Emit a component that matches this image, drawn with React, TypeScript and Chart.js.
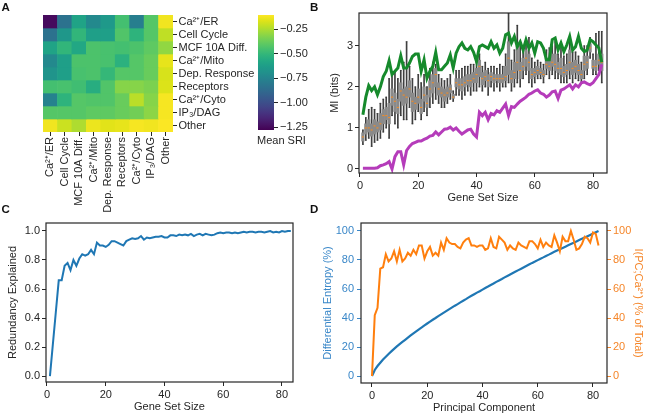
import React, { useEffect, useRef } from 'react';
import { Chart, registerables } from 'chart.js';

Chart.register(...registerables);

// ------------------------- DATA -------------------------
const heatLabels = ['Ca²⁺/ER', 'Cell Cycle', 'MCF 10A Diff.', 'Ca²⁺/Mito', 'Dep. Response', 'Receptors', 'Ca²⁺/Cyto', 'IP₃/DAG', 'Other'];
const heatRows = [
  [-1.25, -0.84, -0.60, -0.73, -0.65, -0.46, -0.78, -0.42, -0.13],
  [-0.84, -0.66, -0.51, -0.62, -0.62, -0.43, -0.52, -0.42, -0.22],
  [-0.60, -0.51, -0.58, -0.44, -0.45, -0.46, -0.44, -0.40, -0.30],
  [-0.73, -0.62, -0.44, -0.44, -0.45, -0.53, -0.42, -0.38, -0.15],
  [-0.68, -0.62, -0.45, -0.44, -0.50, -0.42, -0.42, -0.38, -0.18],
  [-0.46, -0.45, -0.47, -0.55, -0.43, -0.32, -0.32, -0.34, -0.17],
  [-0.76, -0.52, -0.42, -0.43, -0.43, -0.38, -0.23, -0.32, -0.12],
  [-0.42, -0.42, -0.42, -0.40, -0.40, -0.38, -0.36, -0.31, -0.12],
  [-0.13, -0.20, -0.25, -0.14, -0.16, -0.15, -0.12, -0.13, -0.11],
];
const heatMin = -1.28;
const heatMax = -0.107;
const colorbarTicks = [-1.25, -1.0, -0.75, -0.5, -0.25];

const geneSetSizes = Array.from({ length: 83 }, (_, i) => i + 1);
const miUpper = [
  1.32, 1.75, 2.03, 1.91, 2.0, 1.81, 2.0, 2.25, 2.38, 2.64,
  2.30, 2.38, 2.46, 2.76, 2.46, 2.46, 2.58, 2.74, 2.80, 2.80,
  2.38, 2.66, 2.21, 2.38, 2.50, 2.84, 2.42, 2.42, 2.50, 2.58,
  2.78, 2.46, 2.82, 2.98, 3.07, 2.94, 2.90, 2.98, 2.84, 2.62,
  2.98, 3.02, 2.98, 2.94, 3.10, 2.94, 3.02, 2.82, 2.94, 3.27,
  3.31, 3.07, 3.23, 2.98, 3.10, 2.90, 3.15, 2.94, 3.07, 2.82,
  3.10, 3.07, 2.94, 2.66, 2.66, 3.15, 3.19, 2.90, 3.07, 2.86,
  3.02, 3.23, 2.90, 2.98, 3.23, 2.94, 2.86, 2.90, 3.15, 3.10,
  3.02, 2.95, 2.60,
];
const miLower = [
  0.02, 0.02, 0.02, 0.02, 0.02, 0.03, 0.08, 0.10, 0.13, 0.18,
  0.0, 0.30, 0.42, 0.42, 0.10, 0.45, 0.55, 0.62, 0.65, 0.68,
  0.68, 0.72, 0.75, 0.80, 0.82, 0.90, 0.83, 0.90, 0.97, 0.98,
  1.02, 0.95, 1.0, 0.92, 0.85, 0.90, 0.95, 0.97, 0.85, 0.78,
  1.38, 1.30, 1.38, 1.20, 1.35, 1.32, 1.42, 1.38, 1.48, 1.58,
  1.30, 1.52, 1.50, 1.58, 1.65, 1.70, 1.75, 1.82, 1.85, 1.90,
  1.93, 1.85, 1.82, 1.75, 1.80, 1.88, 1.90, 1.72, 1.92, 1.95,
  2.00, 2.05, 1.95, 2.05, 2.00, 2.10, 2.12, 2.08, 2.05, 2.10,
  2.20, 2.30, 2.55,
];
// [whisker low, q1, median, q3, whisker high]
const miBoxes = [
  [0.6, 0.68, 0.78, 0.88, 0.95], [0.7, 0.85, 1.0, 1.1, 1.25], [0.75, 0.9, 1.0, 1.2, 1.45],
  [0.55, 0.8, 0.95, 1.1, 1.5], [0.65, 0.85, 1.05, 1.2, 1.45], [0.7, 0.9, 1.0, 1.15, 1.35],
  [0.75, 0.95, 1.1, 1.35, 1.6], [0.9, 1.1, 1.3, 1.45, 1.7], [1.0, 1.2, 1.3, 1.5, 1.75],
  [0.75, 1.1, 1.25, 1.6, 2.2], [1.3, 1.55, 1.75, 1.95, 2.3], [1.1, 1.4, 1.65, 1.85, 2.35],
  [1.0, 1.35, 1.5, 1.7, 2.2], [1.3, 1.65, 1.9, 2.1, 2.4], [1.2, 1.55, 1.8, 1.95, 2.6],
  [1.2, 1.6, 1.75, 2.0, 3.1], [1.5, 1.75, 1.95, 2.15, 2.5], [1.1, 1.4, 1.65, 1.85, 2.2],
  [1.2, 1.45, 1.6, 1.75, 2.0], [1.4, 1.6, 1.75, 1.95, 2.3], [1.2, 1.35, 1.5, 1.7, 2.1],
  [1.4, 1.65, 1.8, 2.0, 2.3], [1.3, 1.5, 1.6, 1.8, 2.0], [1.5, 1.75, 1.95, 2.15, 2.45],
  [1.6, 1.85, 2.1, 2.3, 2.6], [1.7, 2.0, 2.3, 2.45, 2.55], [1.6, 1.8, 1.95, 2.1, 2.3],
  [1.5, 1.75, 1.85, 2.0, 2.2], [1.5, 1.65, 1.8, 1.95, 2.15], [1.6, 1.75, 1.85, 2.0, 2.2],
  [1.7, 1.85, 1.95, 2.05, 2.3], [1.65, 1.72, 1.75, 1.82, 1.9], [1.8, 2.0, 2.1, 2.2, 2.4],
  [1.8, 1.95, 2.05, 2.2, 2.4], [1.7, 1.9, 2.05, 2.2, 2.45], [1.8, 2.0, 2.1, 2.25, 2.5],
  [1.9, 2.05, 2.15, 2.3, 2.5], [1.8, 2.0, 2.15, 2.3, 2.55], [1.9, 2.1, 2.2, 2.35, 2.55],
  [1.9, 2.1, 2.3, 2.45, 2.6], [2.0, 2.25, 2.5, 2.65, 2.8], [1.9, 2.05, 2.2, 2.35, 2.5],
  [2.0, 2.15, 2.25, 2.4, 2.6], [1.8, 2.0, 2.15, 2.3, 2.45], [2.0, 2.15, 2.25, 2.35, 2.5],
  [1.9, 2.1, 2.2, 2.3, 2.5], [2.0, 2.15, 2.2, 2.3, 2.45], [1.9, 2.1, 2.2, 2.3, 2.55],
  [2.0, 2.1, 2.2, 2.3, 2.5], [2.0, 2.15, 2.25, 2.5, 2.8], [2.1, 2.3, 2.7, 3.1, 3.8],
  [1.9, 2.1, 2.2, 2.4, 2.65], [2.0, 2.2, 2.35, 2.6, 2.9], [2.1, 2.4, 2.6, 3.0, 3.5],
  [2.0, 2.2, 2.4, 2.6, 3.0], [2.2, 2.4, 2.5, 2.7, 3.0], [2.3, 2.5, 2.7, 2.9, 3.1],
  [2.1, 2.4, 2.6, 2.8, 3.2], [2.0, 2.2, 2.3, 2.45, 2.7], [2.1, 2.25, 2.35, 2.45, 2.6],
  [2.2, 2.3, 2.4, 2.5, 2.65], [2.2, 2.3, 2.35, 2.45, 2.6], [2.1, 2.25, 2.3, 2.4, 2.55],
  [2.3, 2.45, 2.55, 2.7, 2.9], [2.2, 2.4, 2.5, 2.7, 2.95], [2.3, 2.5, 2.6, 2.8, 3.0],
  [2.2, 2.4, 2.55, 2.8, 3.1], [2.2, 2.35, 2.45, 2.6, 2.8], [2.1, 2.3, 2.45, 2.7, 3.0],
  [2.1, 2.25, 2.35, 2.5, 2.75], [2.1, 2.3, 2.4, 2.55, 2.8], [2.2, 2.4, 2.6, 2.9, 3.2],
  [2.1, 2.3, 2.45, 2.6, 2.85], [2.2, 2.35, 2.5, 2.65, 2.85], [2.15, 2.3, 2.4, 2.55, 2.75],
  [2.1, 2.2, 2.3, 2.4, 2.6], [2.2, 2.4, 2.55, 2.75, 3.0], [2.3, 2.45, 2.6, 2.75, 3.0],
  [2.7, 2.85, 2.95, 3.05, 3.2], [2.3, 2.45, 2.5, 2.65, 2.8], [2.3, 2.4, 2.5, 2.65, 3.3],
  [2.4, 2.55, 2.65, 2.8, 3.35], [2.1, 2.4, 2.6, 2.8, 3.35],
];
const miTicks = [0, 1, 2, 3];
const sizeTicks = [0, 20, 40, 60, 80];

const redundancy = [
  0.0, 0.22, 0.44, 0.66, 0.66, 0.76, 0.78, 0.73, 0.80, 0.76,
  0.81, 0.84, 0.83, 0.84, 0.87, 0.84, 0.92, 0.90, 0.90, 0.89,
  0.905, 0.93, 0.93, 0.92, 0.91, 0.90, 0.93, 0.94, 0.95, 0.945,
  0.95, 0.965, 0.94, 0.955, 0.95, 0.955, 0.96, 0.96, 0.965, 0.955,
  0.955, 0.97, 0.97, 0.965, 0.975, 0.97, 0.975, 0.97, 0.98, 0.965,
  0.975, 0.98, 0.97, 0.98, 0.975, 0.97, 0.975, 0.985, 0.99, 0.985,
  0.99, 0.99, 0.985, 0.99, 0.985, 0.99, 0.995, 0.99, 0.995, 0.995,
  0.99, 0.995, 0.995, 0.99, 0.995, 1.0, 0.99, 0.995, 0.99, 1.0,
  0.995, 1.0, 1.0,
];
const redundancyTicks = [0, 0.2, 0.4, 0.6, 0.8, 1.0];

const pcIndex = Array.from({ length: 83 }, (_, i) => i);
const diffEntropy = [
  0, 4.2, 6.9, 9.2, 11.4, 13.3, 15.2, 17.0, 18.7, 20.4,
  22.0, 23.5, 25.0, 26.5, 28.0, 29.4, 30.8, 32.2, 33.5, 34.9,
  36.2, 37.5, 38.8, 40.0, 41.3, 42.5, 43.7, 44.9, 46.1, 47.3,
  48.5, 49.6, 50.8, 51.9, 53.0, 54.2, 55.3, 56.4, 57.5, 58.5,
  59.6, 60.7, 61.7, 62.8, 63.8, 64.9, 65.9, 66.9, 68.0, 69.0,
  70.0, 71.0, 72.0, 73.0, 74.0, 75.0, 76.0, 77.0, 78.0, 78.9,
  79.9, 80.9, 81.8, 82.8, 83.7, 84.7, 85.6, 86.5, 87.4, 88.3,
  89.2, 90.1, 91.0, 91.9, 92.8, 93.7, 94.6, 95.5, 96.4, 97.3,
  98.2, 99.1, 100.0,
];
const pcInfo = [
  0, 42, 47, 74, 75, 84, 79, 81, 86, 79,
  87, 79, 81, 85, 83, 87, 84, 90, 90, 81,
  86, 89, 83, 85, 83, 92, 87, 95, 92, 91,
  91, 89, 88, 92, 94, 95, 90, 90, 89, 90,
  90, 87, 88, 95, 89, 88, 96, 94, 92, 87,
  90, 88, 87, 92, 90, 89, 88, 93, 93, 91,
  88, 94, 89, 92, 90, 89, 97, 92, 86, 96,
  93, 93, 100, 94, 87, 88, 91, 96, 95, 92,
  99, 98, 90,
];
const pctTicks = [0, 20, 40, 60, 80, 100];

// ------------------------- STYLE HELPERS -------------------------
const FONT = '"Liberation Sans", Arial, Helvetica, sans-serif';
const INK = '#262626';
const BLUE = '#1f77b4';
const BLUE_TXT = '#3a87c8';
const ORANGE = '#ff7f0e';
const ORANGE_TXT = '#f5862a';

Chart.defaults.font.family = FONT;
Chart.defaults.font.size = 11;
Chart.defaults.color = INK;

const VIRIDIS = [
  '#440154', '#471365', '#482475', '#463480', '#414487', '#3b528b', '#355f8d',
  '#2f6c8e', '#2a788e', '#25848e', '#21918c', '#1e9c89', '#22a884', '#2fb47c',
  '#44bf70', '#5ec962', '#7ad151', '#9bd93c', '#bddf26', '#dfe318', '#fde725',
];
function hexRgb(h: string) {
  return [parseInt(h.slice(1, 3), 16), parseInt(h.slice(3, 5), 16), parseInt(h.slice(5, 7), 16)];
}
function viridis(t: number) {
  const tt = Math.max(0, Math.min(1, t)) * (VIRIDIS.length - 1);
  const i = Math.min(VIRIDIS.length - 2, Math.floor(tt));
  const f = tt - i;
  const a = hexRgb(VIRIDIS[i]);
  const b = hexRgb(VIRIDIS[i + 1]);
  const c = a.map((v, k) => Math.round(v + (b[k] - v) * f));
  return `rgb(${c[0]},${c[1]},${c[2]})`;
}
const heatColor = (v: number) => viridis((v - heatMin) / (heatMax - heatMin));

const tickGrid = (color = INK) => ({
  display: true, drawOnChartArea: false, drawTicks: true, tickLength: 4, color, lineWidth: 1,
});
const setTicks = (vals: number[]) => (s: any) => { s.ticks = vals.map((v) => ({ value: v })); };
const fixW = (w: number) => (s: any) => { s.width = w; };
const fixH = (h: number) => (s: any) => { s.height = h; };

const framePlugin = {
  id: 'frame',
  afterDatasetsDraw(chart: any) {
    const { ctx, chartArea: a } = chart;
    ctx.save();
    ctx.strokeStyle = INK;
    ctx.lineWidth = 1.2;
    ctx.strokeRect(a.left, a.top, a.right - a.left, a.bottom - a.top);
    ctx.restore();
  },
};

const baseOpts = {
  responsive: false,
  maintainAspectRatio: false,
  animation: false,
  events: [],
  plugins: { legend: { display: false }, tooltip: { enabled: false } },
};

export default function App() {
  const refA = useRef<HTMLCanvasElement>(null);
  const refCb = useRef<HTMLCanvasElement>(null);
  const refB = useRef<HTMLCanvasElement>(null);
  const refC = useRef<HTMLCanvasElement>(null);
  const refD = useRef<HTMLCanvasElement>(null);

  useEffect(() => {
    const charts: Chart[] = [];

    // ---------- Panel A: heatmap (stacked unit bars, one dataset per row) ----------
    charts.push(new Chart(refA.current as any, {
      type: 'bar',
      data: {
        labels: heatLabels,
        datasets: heatRows.map((row, r) => ({
          label: heatLabels[r],
          data: row.map(() => 1),
          backgroundColor: row.map((v) => heatColor(v)),
          borderColor: row.map((v) => heatColor(v)),
          borderWidth: 0,
          barPercentage: 1,
          categoryPercentage: 1,
          stack: 'heat',
        })),
      } as any,
      options: {
        ...baseOpts,
        layout: { padding: { left: 43, top: 15, right: 0, bottom: 0 } },
        scales: {
          x: {
            stacked: true,
            offset: true,
            grid: { ...tickGrid(), offset: false },
            border: { display: false },
            ticks: { minRotation: 90, maxRotation: 90, autoSkip: false, padding: 1, color: INK },
            afterFit: fixH(83),
          },
          y: {
            type: 'linear',
            stacked: true,
            position: 'right',
            min: 0,
            max: 9,
            reverse: true,
            grid: tickGrid(),
            border: { display: false },
            afterBuildTicks: (s: any) => { s.ticks = heatLabels.map((_, i) => ({ value: i + 0.5 })); },
            ticks: { autoSkip: false, padding: 1.5, color: INK, callback: (v: any) => heatLabels[Math.floor(v)] },
            afterFit: fixW(82),
          },
        },
      } as any,
    }));

    // ---------- Panel A: colorbar ----------
    charts.push(new Chart(refCb.current as any, {
      type: 'bar',
      data: {
        labels: [''],
        datasets: [{
          data: [[heatMin, heatMax]],
          borderWidth: 0,
          barPercentage: 1,
          categoryPercentage: 1,
          backgroundColor: (ctx: any) => {
            const chart = ctx.chart;
            const a = chart.chartArea;
            if (!a) return '#21918c';
            const g = chart.ctx.createLinearGradient(0, a.bottom, 0, a.top);
            VIRIDIS.forEach((c, i) => g.addColorStop(i / (VIRIDIS.length - 1), c));
            return g;
          },
        }],
      } as any,
      options: {
        ...baseOpts,
        layout: { padding: { left: 8, top: 15, right: 0, bottom: 0 } },
        scales: {
          x: {
            grid: { display: false },
            border: { display: false },
            ticks: { display: false },
            afterFit: fixH(20),
          },
          y: {
            position: 'right',
            min: heatMin,
            max: heatMax,
            grid: tickGrid(),
            border: { display: false },
            afterBuildTicks: setTicks(colorbarTicks),
            ticks: { padding: 2, color: INK, callback: (v: any) => Number(v).toFixed(2).replace('-', '\u2212') },
            afterFit: fixW(46),
          },
        },
      } as any,
    }));

    // ---------- Panel B ----------
    charts.push(new Chart(refB.current as any, {
      type: 'bar',
      data: {
        datasets: [
          {
            type: 'line', order: 0,
            data: geneSetSizes.map((x, i) => ({ x, y: miUpper[i] })),
            borderColor: '#168a2c', borderWidth: 3, pointRadius: 0, tension: 0,
          },
          {
            type: 'line', order: 1,
            data: geneSetSizes.map((x, i) => ({ x, y: miLower[i] })),
            borderColor: '#b53cba', borderWidth: 3, pointRadius: 0, tension: 0,
          },
          {
            type: 'scatter', order: 2,
            data: geneSetSizes.map((x, i) => ({ x, y: miBoxes[i][2] })),
            pointStyle: 'line', pointRadius: 1, borderColor: '#ff8c1a', borderWidth: 1,
          },
          {
            type: 'scatter', order: 3,
            data: geneSetSizes.flatMap((x, i) => [{ x, y: miBoxes[i][0] }, { x, y: miBoxes[i][4] }]),
            pointStyle: 'line', pointRadius: 0.8, borderColor: '#333', borderWidth: 0.8,
          },
          {
            type: 'bar', order: 4, grouped: false,
            data: geneSetSizes.map((x, i) => ({ x, y: [miBoxes[i][1], miBoxes[i][3]] })),
            backgroundColor: '#8a8a8a', borderWidth: 0, barThickness: 2.6,
          },
          {
            type: 'bar', order: 5, grouped: false,
            data: geneSetSizes.map((x, i) => ({ x, y: [miBoxes[i][0], miBoxes[i][4]] })),
            backgroundColor: '#404040', borderWidth: 0, barThickness: 1,
          },
        ],
      } as any,
      options: {
        ...baseOpts,
        layout: { padding: { left: 0, top: 13, right: 39, bottom: 0 } },
        scales: {
          x: {
            type: 'linear', offset: false,
            min: -0.34, max: 84.8,
            grid: { ...tickGrid(), offset: false },
            border: { display: false },
            afterBuildTicks: setTicks(sizeTicks),
            ticks: { padding: 2, color: INK },
            title: { display: true, text: 'Gene Set Size', color: INK, padding: { top: 0, bottom: 3.4 } },
            afterFit: fixH(35),
          },
          y: {
            type: 'linear', stacked: false,
            min: -0.098, max: 3.8,
            grid: tickGrid(),
            border: { display: false },
            afterBuildTicks: setTicks(miTicks),
            ticks: { padding: 2, color: INK },
            title: { display: true, text: 'MI (bits)', color: INK, padding: { top: 10.4, bottom: 0 } },
            afterFit: fixW(41),
          },
        },
      } as any,
      plugins: [framePlugin],
    }));

    // ---------- Panel C ----------
    charts.push(new Chart(refC.current as any, {
      type: 'line',
      data: {
        datasets: [{
          data: geneSetSizes.map((x, i) => ({ x, y: redundancy[i] })),
          borderColor: BLUE, borderWidth: 2, pointRadius: 0, tension: 0,
        }],
      } as any,
      options: {
        ...baseOpts,
        layout: { padding: { left: 0, top: 18, right: 7, bottom: 0 } },
        scales: {
          x: {
            type: 'linear', min: -0.34, max: 83.75,
            grid: tickGrid(), border: { display: false },
            afterBuildTicks: setTicks(sizeTicks),
            ticks: { padding: 2, color: INK },
            title: { display: true, text: 'Gene Set Size', color: INK, padding: { top: 0, bottom: 1.4 } },
            afterFit: fixH(33),
          },
          y: {
            type: 'linear', min: -0.041, max: 1.055,
            grid: tickGrid(), border: { display: false },
            afterBuildTicks: setTicks(redundancyTicks),
            ticks: { padding: 2, color: INK, callback: (v: any) => Number(v).toFixed(1) },
            title: { display: true, text: 'Redundancy Explained', color: INK, padding: { top: 6.4, bottom: 0 } },
            afterFit: fixW(46),
          },
        },
      } as any,
      plugins: [framePlugin],
    }));

    // ---------- Panel D ----------
    charts.push(new Chart(refD.current as any, {
      type: 'line',
      data: {
        datasets: [
          {
            order: 0, yAxisID: 'y2',
            data: pcIndex.map((x, i) => ({ x, y: pcInfo[i] })),
            borderColor: ORANGE, borderWidth: 2, pointRadius: 0, tension: 0,
          },
          {
            order: 1, yAxisID: 'y',
            data: pcIndex.map((x, i) => ({ x, y: diffEntropy[i] })),
            borderColor: BLUE, borderWidth: 2.2, pointRadius: 0, tension: 0,
          },
        ],
      } as any,
      options: {
        ...baseOpts,
        layout: { padding: { left: 0, top: 18, right: 0, bottom: 0 } },
        scales: {
          x: {
            type: 'linear', min: -3.98, max: 85.07,
            grid: tickGrid(), border: { display: false },
            afterBuildTicks: setTicks(sizeTicks),
            ticks: { padding: 2, color: INK },
            title: { display: true, text: 'Principal Component', color: INK, padding: { top: 0, bottom: 0.4 } },
            afterFit: fixH(32),
          },
          y: {
            type: 'linear', position: 'left', min: -4.8, max: 105.5,
            grid: tickGrid(BLUE_TXT), border: { display: false },
            afterBuildTicks: setTicks(pctTicks),
            ticks: { padding: 3, color: BLUE_TXT },
            title: { display: true, text: 'Differential Entropy (%)', color: BLUE_TXT, padding: { top: 3.4, bottom: 0 } },
            afterFit: fixW(43),
          },
          y2: {
            type: 'linear', position: 'right', min: -4.8, max: 105.5,
            grid: tickGrid(ORANGE_TXT), border: { display: false },
            afterBuildTicks: setTicks(pctTicks),
            ticks: { padding: 2, color: ORANGE_TXT },
            title: { display: true, text: 'I(PC;Ca²⁺) (% of Total)', color: ORANGE_TXT, padding: { top: 1.4, bottom: 0 } },
            afterFit: fixW(39),
          },
        },
      } as any,
      plugins: [framePlugin],
    }));

    return () => { charts.forEach((c) => c.destroy()); };
  }, []);

  const text = (t: string, left: number, top: number, bold: boolean) => (
    <div style={{ position: 'absolute', left, top, fontFamily: FONT, fontWeight: bold ? 'bold' : 'normal', fontSize: bold ? 11.5 : 11, lineHeight: 'normal', color: bold ? '#111' : INK, whiteSpace: 'nowrap' }}>{t}</div>
  );

  return (
    <div style={{ position: 'absolute', left: 0, top: 0, width: 646, height: 415, background: '#fff', overflow: 'hidden' }}>
      <canvas ref={refA} width={255} height={215} style={{ position: 'absolute', left: 0, top: 0 }} />
      <canvas ref={refCb} width={70} height={150} style={{ position: 'absolute', left: 250, top: 0 }} />
      <canvas ref={refB} width={328} height={208} style={{ position: 'absolute', left: 318, top: 0 }} />
      <canvas ref={refC} width={300} height={210} style={{ position: 'absolute', left: 0, top: 205 }} />
      <canvas ref={refD} width={328} height={210} style={{ position: 'absolute', left: 318, top: 205 }} />
      {text('Mean SRI', 257, 133.5, false)}
      {text('A', 1.5, 0.5, true)}
      {text('B', 310, 0.5, true)}
      {text('C', 1.5, 203, true)}
      {text('D', 310, 203, true)}
    </div>
  );
}
